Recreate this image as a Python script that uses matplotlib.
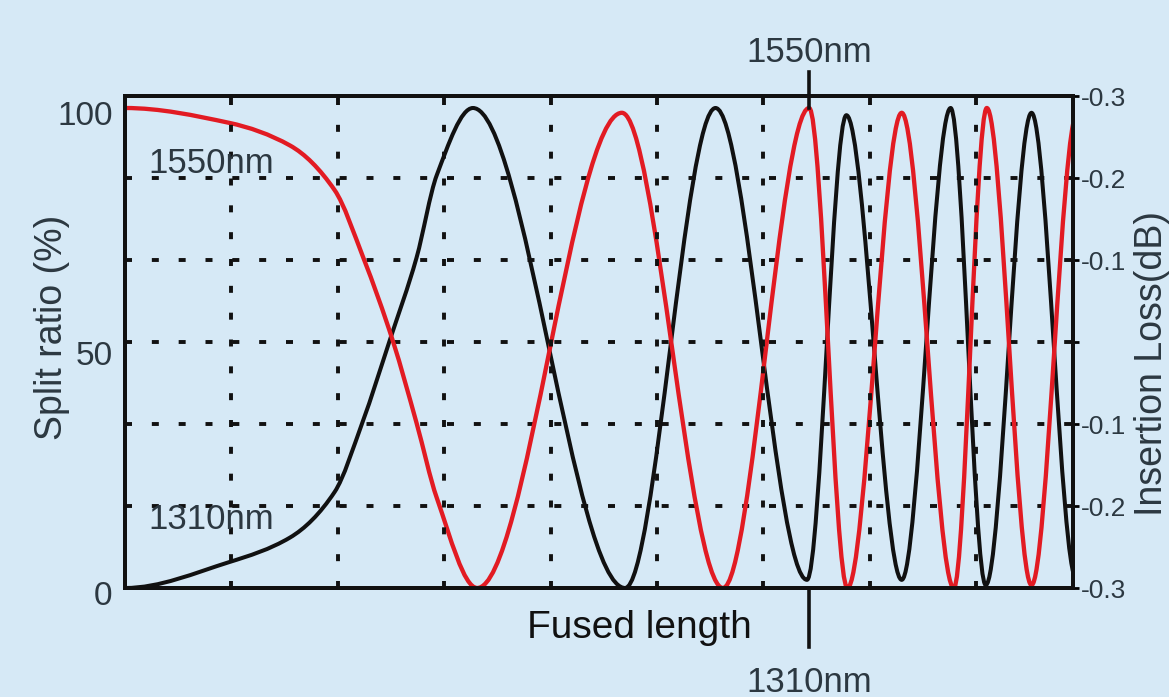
import numpy as np
import matplotlib.pyplot as plt
from matplotlib.path import Path
from matplotlib.patches import PathPatch
import matplotlib.transforms as mtransforms

# knots (x = fused length in grid units, y = split ratio %)
red_x = [0.00, 0.98, 1.55, 1.97, 2.24, 2.52, 2.74, 2.93, 3.31,
         4.67, 5.62, 6.43, 6.79, 7.30, 7.79, 8.10, 8.52, 8.95]
red_y = [100, 96.9, 92.2, 82.9, 68.8, 51.3, 34.4, 18.8, 0,
         99, 0, 100, 0, 99, 0, 100, 0.6, 99]

black_x = [0.00, 0.98, 1.55, 1.97, 2.23, 2.49, 2.74, 2.93, 3.27,
           4.70, 5.55, 6.41, 6.78, 7.30, 7.76, 8.09, 8.52, 8.94]
black_y = [0, 5.4, 10.5, 20.0, 34.4, 51.7, 68.8, 86.0, 100,
           0, 100, 1.7, 98.5, 1.7, 100, 0.6, 99, 2]

grid_x = [1, 2, 3, 4, 5, 6, 7, 8]
left_ticks = [0, 50, 100]
right_ticks = [-0.3, -0.2, -0.1, 0, 0.1, 0.2, 0.3]
right_labels = ['-0.3', '-0.2', '-0.1', '', '-0.1', '-0.2', '-0.3']
marker_x = 6.43  # red peak that the 1550nm / 1310nm marks point at

BG = '#d6e9f6'
TXT = '#2c3841'
RED = '#e21b23'
BLK = '#111111'
plt.rcParams['font.family'] = ['Liberation Sans', 'DejaVu Sans']


def smooth_path(xs, ys):
    # monotone cubic through the knots, drawn as bezier segments
    xs = np.asarray(xs, float)
    ys = np.asarray(ys, float)
    h = np.diff(xs)
    d = np.diff(ys) / h
    m = np.zeros(len(xs))
    for k in range(1, len(xs) - 1):
        if d[k - 1] * d[k] > 0:
            w1 = 2 * h[k] + h[k - 1]
            w2 = h[k] + 2 * h[k - 1]
            m[k] = (w1 + w2) / (w1 / d[k - 1] + w2 / d[k])
    verts = [(xs[0], ys[0])]
    codes = [Path.MOVETO]
    for k in range(len(xs) - 1):
        dx = h[k] / 3
        verts += [(xs[k] + dx, ys[k] + m[k] * dx),
                  (xs[k + 1] - dx, ys[k + 1] - m[k + 1] * dx),
                  (xs[k + 1], ys[k + 1])]
        codes += [Path.CURVE4] * 3
    return Path(verts, codes)


fig = plt.figure(figsize=(11.69, 6.97), dpi=100, facecolor=BG)
ax = fig.add_axes([125 / 1169, 109 / 697, 948 / 1169, 492 / 697])
ax2 = ax.twinx()
ax.set_zorder(2)
ax2.set_zorder(1)
ax.patch.set_visible(False)
ax2.set_facecolor(BG)

ax.set_xlim(0, 8.91)
ax.set_ylim(0, 102.5)
ax2.set_ylim(-0.3, 0.3)

dots = (0, (1.8, 5.1))
ax.set_xticks(grid_x)
ax.tick_params(axis='x', length=0, labelbottom=False)
ax.grid(axis='x', color=BLK, lw=2.8, ls=dots)

ax2.set_yticks(right_ticks)
ax2.set_yticklabels(right_labels)
ax2.tick_params(axis='y', length=4, width=2, pad=2, labelsize=19, labelcolor=TXT)
ax2.grid(axis='y', color=BLK, lw=2.8, ls=dots)

ax.set_yticks(left_ticks)
ax.tick_params(axis='y', length=0, pad=9, labelsize=24, labelcolor=TXT)
shift = mtransforms.ScaledTranslation(0, -5 / 100, fig.dpi_scale_trans)
for lab in ax.get_yticklabels():
    lab.set_transform(lab.get_transform() + shift)

for a in (ax, ax2):
    for s in a.spines.values():
        s.set_linewidth(2.8)
        s.set_color(BLK)

ax.add_patch(PathPatch(smooth_path(black_x, black_y), facecolor='none',
                       edgecolor=BLK, lw=2.9, joinstyle='round'))
ax.add_patch(PathPatch(smooth_path(red_x, red_y), facecolor='none',
                       edgecolor=RED, lw=3.1, joinstyle='round'))

ax.set_ylabel('Split ratio (%)', fontsize=27, color=TXT, va='center')
ax.yaxis.set_label_coords(-0.077, 0.53)
ax2.set_ylabel('Insertion Loss(dB)', fontsize=27, color=TXT, va='center')
ax2.yaxis.set_label_coords(1.083, 0.457)
ax.set_xlabel('Fused length', fontsize=28, color=BLK, va='center')
ax.xaxis.set_label_coords(0.543, -0.081)

# curve names inside the plot
ax.text(0.216, 88.5, '1550nm', fontsize=25, color=TXT, va='center', ha='left')
ax.text(0.216, 14.2, '1310nm', fontsize=25, color=TXT, va='center', ha='left')

# marks above and below the frame
ax.plot([marker_x, marker_x], [100, 107.5], color=BLK, lw=2.6, clip_on=False)
ax.plot([marker_x, marker_x], [0, -12.3], color=BLK, lw=2.6, clip_on=False)
ax.text(marker_x, 111.5, '1550nm', fontsize=25, color=TXT, ha='center', va='center')
ax.text(marker_x, -19.6, '1310nm', fontsize=25, color=TXT, ha='center', va='center')

fig.savefig('out.png', dpi=100, facecolor=BG)
